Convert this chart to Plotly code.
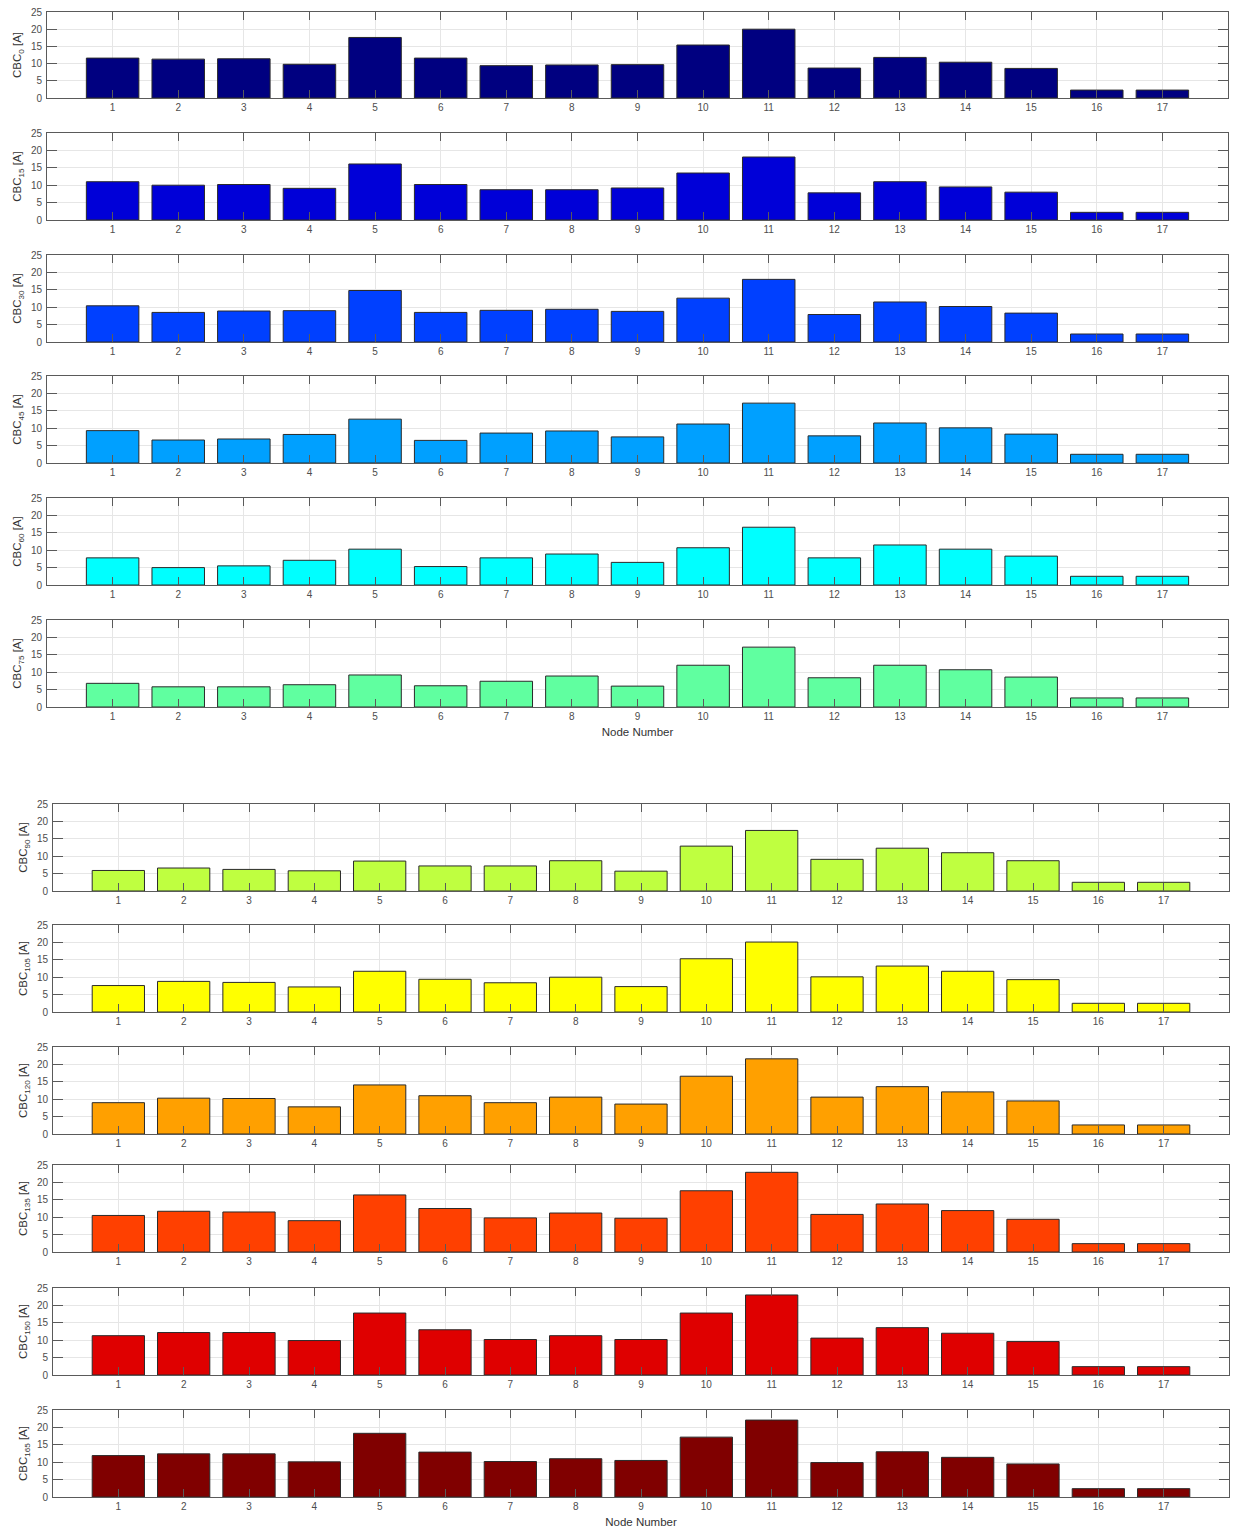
import plotly.graph_objects as go

nodes = list(range(1, 18))
node_labels = [str(n) for n in nodes]
angles = [0, 15, 30, 45, 60, 75, 90, 105, 120, 135, 150, 165]

cbc_0   = [11.6, 11.3, 11.4, 9.8, 17.6, 11.6, 9.4, 9.6, 9.7, 15.4, 20.0, 8.7, 11.8, 10.4, 8.6, 2.3, 2.3]
cbc_15  = [11.0, 10.0, 10.2, 9.1, 16.1, 10.2, 8.7, 8.7, 9.2, 13.5, 18.1, 7.8, 11.0, 9.5, 8.0, 2.2, 2.2]
cbc_30  = [10.4, 8.5, 8.9, 9.0, 14.8, 8.5, 9.1, 9.4, 8.8, 12.6, 18.0, 7.9, 11.5, 10.2, 8.3, 2.3, 2.3]
cbc_45  = [9.3, 6.6, 6.9, 8.2, 12.6, 6.5, 8.6, 9.2, 7.5, 11.2, 17.2, 7.8, 11.5, 10.1, 8.3, 2.5, 2.5]
cbc_60  = [7.8, 5.0, 5.5, 7.1, 10.3, 5.3, 7.8, 8.9, 6.5, 10.7, 16.6, 7.8, 11.5, 10.3, 8.3, 2.5, 2.5]
cbc_75  = [6.8, 5.8, 5.8, 6.4, 9.2, 6.1, 7.4, 8.9, 6.0, 12.0, 17.2, 8.4, 12.0, 10.7, 8.6, 2.6, 2.6]
cbc_90  = [5.9, 6.6, 6.2, 5.8, 8.6, 7.2, 7.2, 8.7, 5.7, 12.9, 17.4, 9.1, 12.3, 11.0, 8.7, 2.5, 2.5]
cbc_105 = [7.6, 8.8, 8.5, 7.2, 11.7, 9.4, 8.4, 10.0, 7.3, 15.3, 20.1, 10.1, 13.2, 11.7, 9.3, 2.5, 2.5]
cbc_120 = [9.0, 10.3, 10.2, 7.8, 14.1, 11.0, 9.0, 10.6, 8.6, 16.6, 21.6, 10.6, 13.6, 12.1, 9.5, 2.6, 2.6]
cbc_135 = [10.5, 11.7, 11.5, 9.0, 16.4, 12.5, 9.8, 11.2, 9.7, 17.6, 22.9, 10.8, 13.8, 11.9, 9.4, 2.4, 2.4]
cbc_150 = [11.3, 12.2, 12.2, 9.9, 17.8, 13.0, 10.2, 11.3, 10.2, 17.8, 23.0, 10.6, 13.6, 12.0, 9.6, 2.4, 2.4]
cbc_165 = [11.9, 12.4, 12.4, 10.1, 18.3, 12.9, 10.2, 11.0, 10.5, 17.2, 22.1, 9.9, 13.0, 11.4, 9.5, 2.4, 2.4]

series = [cbc_0, cbc_15, cbc_30, cbc_45, cbc_60, cbc_75,
          cbc_90, cbc_105, cbc_120, cbc_135, cbc_150, cbc_165]
colors = ["#000080", "#0000D8", "#0040FF", "#00A0FF", "#00FFFF", "#60FFA0",
          "#BFFF40", "#FFFF00", "#FFA000", "#FF4000", "#DF0000", "#800000"]
y_ticks = [0, 5, 10, 15, 20, 25]
x_title = "Node Number"

W, H = 1236, 1530
# panel pixel extents (top, bottom)
panels_px = [(12, 98), (133, 220), (255, 342), (376, 463), (498, 585), (620, 707),
             (804, 891), (925, 1012), (1047, 1134), (1165, 1252), (1288, 1375), (1410, 1497)]
x_px_top = (47, 1228)
x_px_bot = (53, 1229)

fig = go.Figure()
font_family = "Liberation Sans, Arial, Helvetica, sans-serif"

for i, (ang, vals, col) in enumerate(zip(angles, series, colors)):
    n = i + 1
    xa = "x" if n == 1 else f"x{n}"
    ya = "y" if n == 1 else f"y{n}"
    fig.add_trace(go.Bar(
        x=nodes, y=vals, width=0.8, xaxis=xa, yaxis=ya,
        marker=dict(color=col, line=dict(color="#2a2a2a", width=1)),
        showlegend=False, hoverinfo="x+y"))
    top, bot = panels_px[i]
    xl, xr = x_px_top if i < 6 else x_px_bot
    xdom = [xl / W, xr / W]
    ydom = [1 - bot / H, 1 - top / H]
    axcommon = dict(showline=True, linecolor="#5a5a5a", linewidth=1, mirror="ticks",
                    ticks="inside", ticklen=8, tickcolor="#5a5a5a", tickwidth=1,
                    showgrid=True, gridcolor="#e6e6e6", gridwidth=1, zeroline=False,
                    automargin=False,
                    tickfont=dict(family=font_family, size=10, color="#4d4d4d"))
    xkey = "xaxis" if n == 1 else f"xaxis{n}"
    ykey = "yaxis" if n == 1 else f"yaxis{n}"
    xaxis = dict(domain=xdom, range=[0, 18], tickmode="array", tickvals=nodes,
                 ticktext=node_labels, anchor=ya, **axcommon)
    if i in (5, 11):
        xaxis["title"] = dict(text=x_title, standoff=6,
                              font=dict(family=font_family, size=11.5, color="#333333"))
    yaxis = dict(domain=ydom, range=[0, 25], tickmode="array", tickvals=y_ticks,
                 anchor=xa, ticklabelstandoff=2,
                 title=dict(text=f"CBC<sub>{ang}</sub> [A]", standoff=6,
                            font=dict(family=font_family, size=11.5, color="#333333")),
                 **axcommon)
    yaxis["ticklen"] = 10
    fig.update_layout({xkey: xaxis, ykey: yaxis})

fig.update_layout(width=W, height=H, margin=dict(l=0, r=0, t=0, b=0, autoexpand=False),
                  paper_bgcolor="white", plot_bgcolor="white", bargap=0.2,
                  font=dict(family=font_family))
fig.write_html("out.html")
